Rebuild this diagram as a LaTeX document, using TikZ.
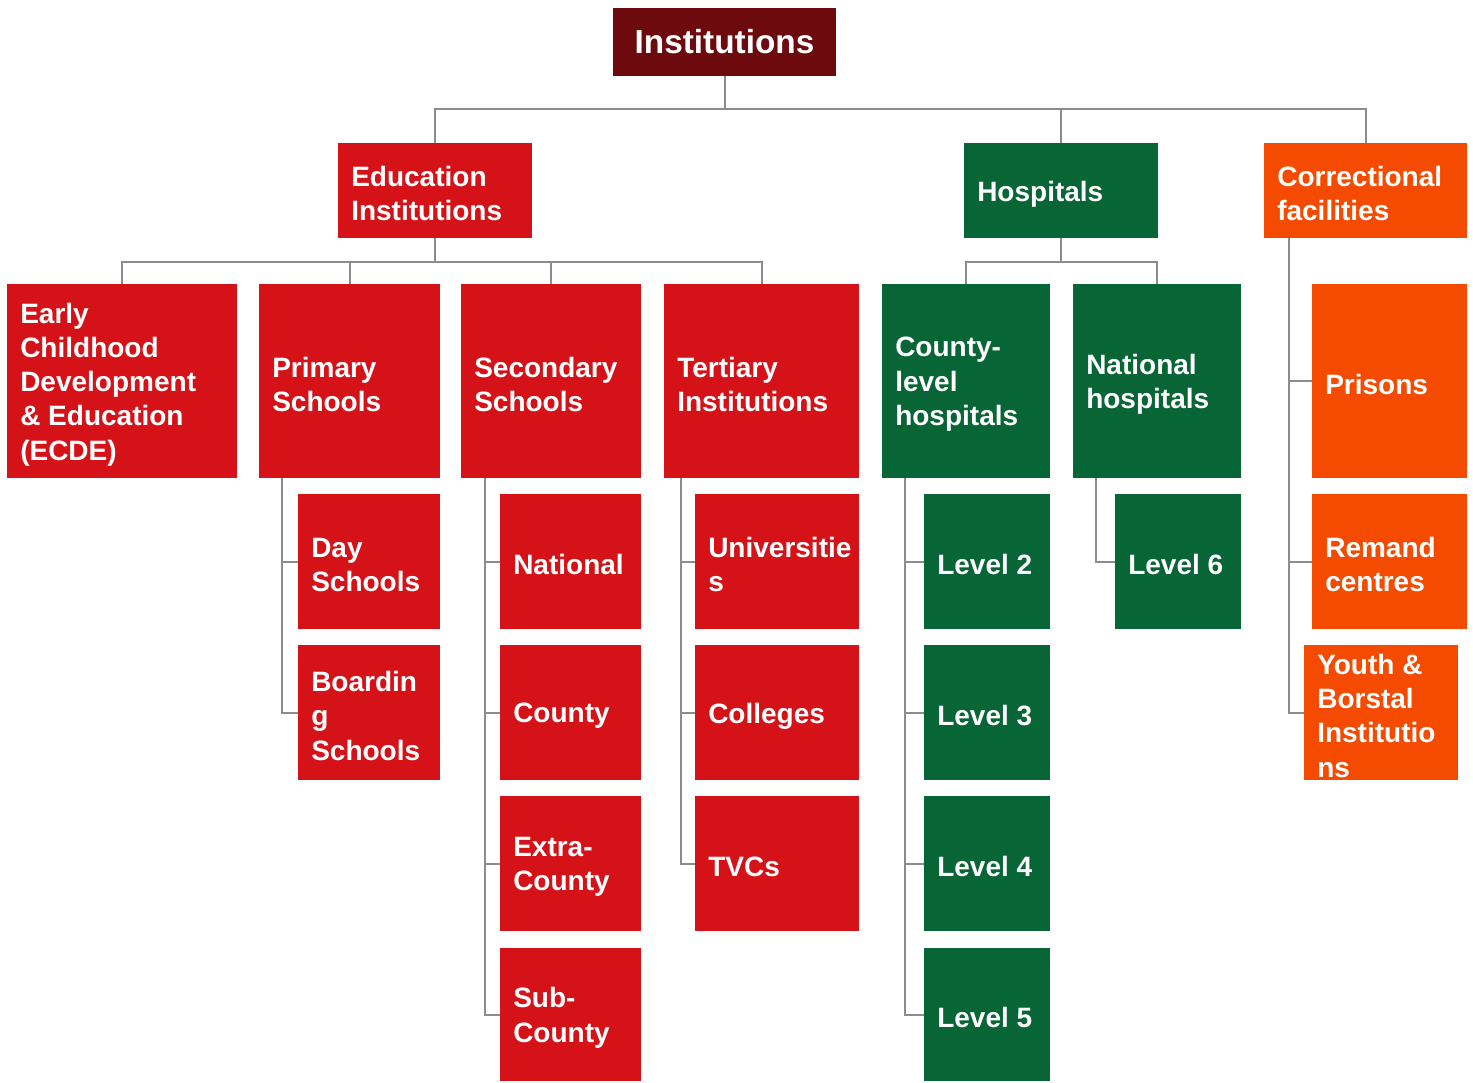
\documentclass[tikz,border=0pt]{standalone}
\usepackage{fontspec}
\setmainfont{Liberation Sans}
\usetikzlibrary{calc}
\definecolor{cdark}{HTML}{6D0A0E}
\definecolor{cred}{HTML}{D61219}
\definecolor{cgreen}{HTML}{086535}
\definecolor{corange}{HTML}{F54B00}
\definecolor{cline}{HTML}{8C8C8C}
\newcommand\bx[7]{%
  \pgfmathsetmacro\bxw{(#4-#2)*0.75}%
  \pgfmathsetmacro\bxh{(#5-#3)*0.75}%
  \node[boxst, fill=#6, minimum width=\bxw pt, minimum height=\bxh pt] (#1) at ({(#2+#4)/2},{(#3+#5)/2}) {};
  \node[txtst] (#1t) at ([xshift=9.75pt,yshift=-2.5pt]#1.west) {#7};
}
\begin{document}
\begin{tikzpicture}[x=0.75pt,y=-0.75pt,
  boxst/.style={draw=none, inner sep=0pt, outer sep=0pt},
  txtst/.style={anchor=west, inner sep=0pt, text=white, align=left,
    font=\bfseries\fontsize{21}{25.7}\selectfont},
  conn/.style={draw=cline, line width=1.5pt}]
\useasboundingbox (0,0) rectangle (1473,1082);
% boxes
\pgfmathsetmacro\bxw{(836-613)*0.75}
\pgfmathsetmacro\bxh{(76-8)*0.75}
\node[boxst, fill=cdark, minimum width=\bxw pt, minimum height=\bxh pt, text=white,
  font=\bfseries\fontsize{25}{30}\selectfont] (inst) at ({(613+836)/2},{(8+76)/2}) {Institutions};
\bx{edu}{338}{143}{532}{238}{cred}{Education\\Institutions}
\bx{hosp}{964}{143}{1158}{238}{cgreen}{Hospitals}
\bx{corr}{1264}{143}{1467}{238}{corange}{Correctional\\facilities}
\bx{ecde}{7}{284}{237}{478}{cred}{Early\\Childhood\\Development\\\& Education\\(ECDE)}
\bx{prim}{259}{284}{440}{478}{cred}{Primary\\Schools}
\bx{sec}{461}{284}{641}{478}{cred}{Secondary\\Schools}
\bx{tert}{664}{284}{859}{478}{cred}{Tertiary\\Institutions}
\bx{chl}{882}{284}{1050}{478}{cgreen}{County-\\level\\hospitals}
\bx{nhosp}{1073}{284}{1241}{478}{cgreen}{National\\hospitals}
\bx{pris}{1312}{284}{1467}{478}{corange}{Prisons}
\bx{day}{298}{494}{440}{629}{cred}{Day\\Schools}
\bx{board}{298}{645}{440}{780}{cred}{Boardin\\g\\Schools}
\bx{nat}{500}{494}{641}{629}{cred}{National}
\bx{cty}{500}{645}{641}{780}{cred}{County}
\bx{xcty}{500}{796}{641}{931}{cred}{Extra-\\County}
\bx{scty}{500}{948}{641}{1081}{cred}{Sub-\\County}
\bx{univ}{695}{494}{859}{629}{cred}{Universitie\\s}
\bx{coll}{695}{645}{859}{780}{cred}{Colleges}
\bx{tvc}{695}{796}{859}{931}{cred}{TVCs}
\bx{lvtwo}{924}{494}{1050}{629}{cgreen}{Level 2}
\bx{lvthree}{924}{645}{1050}{780}{cgreen}{Level 3}
\bx{lvfour}{924}{796}{1050}{931}{cgreen}{Level 4}
\bx{lvfive}{924}{948}{1050}{1081}{cgreen}{Level 5}
\bx{lvsix}{1115}{494}{1241}{629}{cgreen}{Level 6}
\bx{rem}{1312}{494}{1467}{629}{corange}{Remand\\centres}
\bx{youth}{1304}{645}{1458}{780}{corange}{Youth \&\\Borstal\\Institutio\\ns}
% bus levels
\coordinate (busA) at (0,109);
\coordinate (busB) at (0,262);
% top level
\draw[conn] (inst.south) -- (inst.south|-busA) -| (edu.north);
\draw[conn] (inst.south|-busA) -| (hosp.north);
\draw[conn] (inst.south|-busA) -| (corr.north);
% education
\draw[conn] (edu.south) -- (edu.south|-busB) -| (ecde.north);
\draw[conn] (edu.south|-busB) -| (prim.north);
\draw[conn] (edu.south|-busB) -| (sec.north);
\draw[conn] (edu.south|-busB) -| (tert.north);
% hospitals
\draw[conn] (hosp.south) -- (hosp.south|-busB) -| (chl.north);
\draw[conn] (hosp.south|-busB) -| (nhosp.north);
% side branches
\coordinate (pA) at ($(prim.south west)+(23,0)$);
\draw[conn] (pA) |- (board.west);
\draw[conn] (pA) |- (day.west);
\coordinate (sA) at ($(sec.south west)+(24,0)$);
\draw[conn] (sA) |- (scty.west);
\draw[conn] (sA) |- (xcty.west);
\draw[conn] (sA) |- (cty.west);
\draw[conn] (sA) |- (nat.west);
\coordinate (tA) at ($(tert.south west)+(17,0)$);
\draw[conn] (tA) |- (tvc.west);
\draw[conn] (tA) |- (coll.west);
\draw[conn] (tA) |- (univ.west);
\coordinate (cA) at ($(chl.south west)+(23,0)$);
\draw[conn] (cA) |- (lvfive.west);
\draw[conn] (cA) |- (lvfour.west);
\draw[conn] (cA) |- (lvthree.west);
\draw[conn] (cA) |- (lvtwo.west);
\coordinate (nA) at ($(nhosp.south west)+(23,0)$);
\draw[conn] (nA) |- (lvsix.west);
\coordinate (kA) at ($(corr.south west)+(25,0)$);
\draw[conn] (kA) |- (youth.west);
\draw[conn] (kA) |- (rem.west);
\draw[conn] (kA) |- (pris.west);
\end{tikzpicture}
\end{document}
